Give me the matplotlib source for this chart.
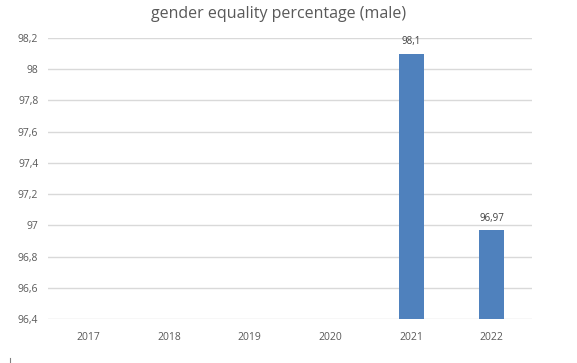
import numpy as np
import matplotlib
matplotlib.use("Agg")
import matplotlib.pyplot as plt
from matplotlib.lines import Line2D
from matplotlib.ticker import FuncFormatter, MultipleLocator

# Chart data
years = ["2017", "2018", "2019", "2020", "2021", "2022"]
male_pct = [np.nan, np.nan, np.nan, np.nan, 98.1, 96.97]
bar_labels = ["", "", "", "", "98,1", "96,97"]

TEXT = "#595959"
BAR = "#4F81BD"
GRID = "#D9D9D9"

plt.rcParams["font.family"] = ["Open Sans", "DejaVu Sans"]

fig = plt.figure(figsize=(5.77, 3.63), dpi=100)
ax = fig.add_axes([0.0832, 0.1212, 0.839, 0.774])

x = np.arange(len(years))
base = 96.4
heights = [v - base for v in male_pct]
ax.bar(x, heights, bottom=base, width=0.31, color=BAR, zorder=3)

for xi, v, lab in zip(x, male_pct, bar_labels):
    if lab:
        ax.text(xi, v + 0.04, lab, ha="center", va="bottom", fontsize=7, color="#404040")

ax.set_ylim(96.4, 98.2)
ax.set_xlim(-0.5, len(years) - 0.5)
ax.yaxis.set_major_locator(MultipleLocator(0.2))
ax.yaxis.set_major_formatter(FuncFormatter(lambda v, p: f"{round(v, 1):g}".replace(".", ",")))
ax.set_xticks(x)
ax.set_xticklabels(years)

ax.grid(axis="y", color=GRID, linewidth=1, zorder=0)
for s in ax.spines.values():
    s.set_visible(False)
ax.tick_params(axis="both", length=0, labelsize=7.5, colors=TEXT)
ax.tick_params(axis="y", pad=7)
ax.tick_params(axis="x", pad=9)

fig.text(0.482, 0.962, "gender equality percentage (male)", ha="center", va="center",
         fontsize=11.5, color=TEXT)

# small stray mark at bottom-left of the original image
fig.add_artist(Line2D([10 / 577, 10 / 577], [1 / 363, 5 / 363], color="#808080", linewidth=0.8))

fig.savefig("out.png", dpi=100)
